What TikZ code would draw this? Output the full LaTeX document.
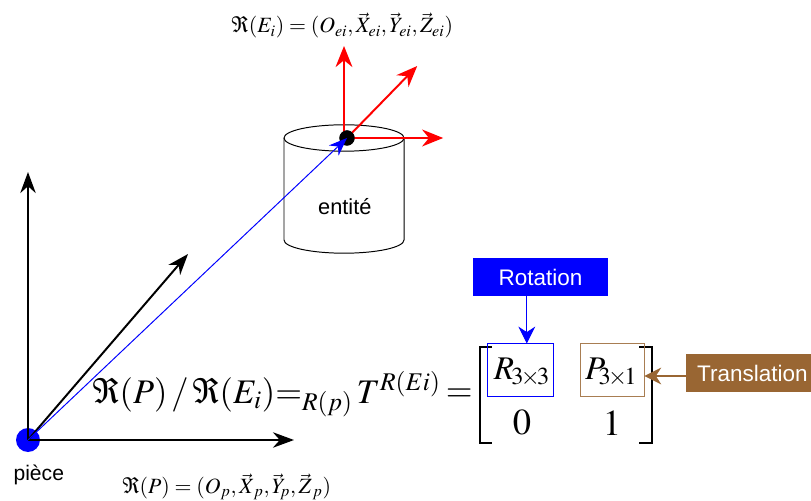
\documentclass[tikz,border=0pt]{standalone}
\usepackage{amsmath,amssymb}
\usepackage{mathptmx}
\usepackage{fontspec}
\setmainfont{Liberation Sans}
\usetikzlibrary{arrows.meta,positioning,calc}
\tikzset{
  axisline/.style={black,line width=1.4pt,-{Stealth[length=15pt,width=11pt]}},
  redline/.style={red,line width=1.4pt,-{Stealth[length=15pt,width=12pt]}},
  tagbox/.style={text=white,font=\fontsize{16}{18}\selectfont,minimum height=0.95cm,inner sep=0pt},
  cellbox/.style={draw,line width=0.6pt,minimum width=1.65cm,minimum height=1.325cm,inner sep=0pt},
  formula/.style={inner sep=0pt,anchor=base west,text=black},
}
\definecolor{tagbrown}{HTML}{996633}
\begin{document}
\begin{tikzpicture}[>=Stealth]
\useasboundingbox (0,0) rectangle (20.275,12.5);
% piece frame
\node[circle,fill=blue,minimum size=0.6cm,inner sep=0pt] (origin) at (0.7,1.5) {};
\coordinate (xp) at (7.35,1.5);
\coordinate (yp) at (0.7,8.2);
\coordinate (zp) at (4.7,6.15);
\draw[axisline] (origin.center) -- (xp);
\draw[axisline] (origin.center) -- (yp);
\draw[axisline] (origin.center) -- (zp);
\node[font=\fontsize{15}{17}\selectfont] (piece) at (0.97,0.63) {pièce};
% cylinder
\draw[line width=0.7pt] (7.1,9.05) arc[start angle=180,end angle=-180,x radius=1.5,y radius=0.33];
\draw[line width=0.7pt] (7.1,9.05) -- (7.1,6.5) arc[start angle=180,end angle=360,x radius=1.5,y radius=0.33] -- (10.1,9.05);
\node[font=\fontsize{15.5}{17}\selectfont] (entite) at (8.62,7.33) {entité};
% entity frame
\node[circle,fill=black,minimum size=0.38cm,inner sep=0pt] (oe) at (8.675,9.05) {};
\coordinate (xe) at (11.08,9.05);
\coordinate (ye) at (8.6,11.35);
\coordinate (ze) at (10.43,10.85);
\draw[redline] (8.6,9.1) -- (ye);
\draw[redline] (oe.center) -- (ze);
\draw[redline] (oe.center) -- (xe);
\node[circle,fill=black,minimum size=0.38cm,inner sep=0pt] at (oe) {};
\draw[blue,line width=0.7pt,-{Stealth[length=13pt,width=10pt]}] (origin.center) -- (oe.center);
% formulas
\node[formula,font=\fontsize{15.5}{17}\selectfont] (ftop) at (5.78,11.68)
  {$\Re(E_i)=(O_{ei},\vec{X}_{ei},\vec{Y}_{ei},\vec{Z}_{ei})$};
\node[formula,font=\fontsize{15.5}{17}\selectfont] (fbot) at (3.05,0.16)
  {$\Re(P)=(O_p,\vec{X}_{\,p},\vec{Y}_{\!p},\vec{Z}_{\,p})$};
\node[formula,font=\fontsize{24.5}{26}\selectfont] (fmain) at (2.3,2.42)
  {$\Re(P)\,/\,\Re(E_i){=}_{R(p)}\,T^{R(Ei)}$};
\node[font=\fontsize{24.5}{26}\selectfont] (eqs) at (11.48,2.62) {$=$};
% matrix
\draw[line width=1pt] (12.3,3.82) -- (12.0,3.82) -- (12.0,1.43) -- (12.3,1.43);
\draw[line width=1pt] (15.98,3.82) -- (16.3,3.82) -- (16.3,1.43) -- (15.98,1.43);
\node[cellbox,draw=blue] (rbox) at (13.0,3.24) {};
\node[cellbox,draw=tagbrown!85,minimum width=1.6cm] (pbox) at (15.3,3.24) {};
\node[inner sep=0pt,font=\fontsize{23.5}{26}\selectfont] (rtxt) at (13.05,3.2) {$R_{\!3\!\times\!3}$};
\node[inner sep=0pt,font=\fontsize{23.5}{26}\selectfont] (ptxt) at (15.28,3.2) {$P_{\!3\!\times\!1}$};
\node[font=\fontsize{26}{28}\selectfont] (zero) at (13.05,1.93) {$0$};
\node[font=\fontsize{26}{28}\selectfont] (one) at (15.3,1.93) {$1$};
% tags
\node[tagbox,fill=blue,minimum width=3.375cm] (rot) at (13.51,5.575) {Rotation};
\node[tagbox,fill=tagbrown,minimum width=3.125cm] (tra) at (18.71,3.175) {\hspace{0.2cm}Translation};
\coordinate (rotin) at ($(rbox.north)+(0.17,0)$);
\coordinate (train) at ($(tra.west)+(0,-0.075)$);
\draw[blue,line width=0.7pt,-{Stealth[length=12pt,width=12pt]}] (rot.south -| rotin) -- (rotin);
\draw[tagbrown,line width=0.8pt,-{Stealth[length=12pt,width=12pt]}] (train) -- (pbox.east |- train);
\end{tikzpicture}
\end{document}
